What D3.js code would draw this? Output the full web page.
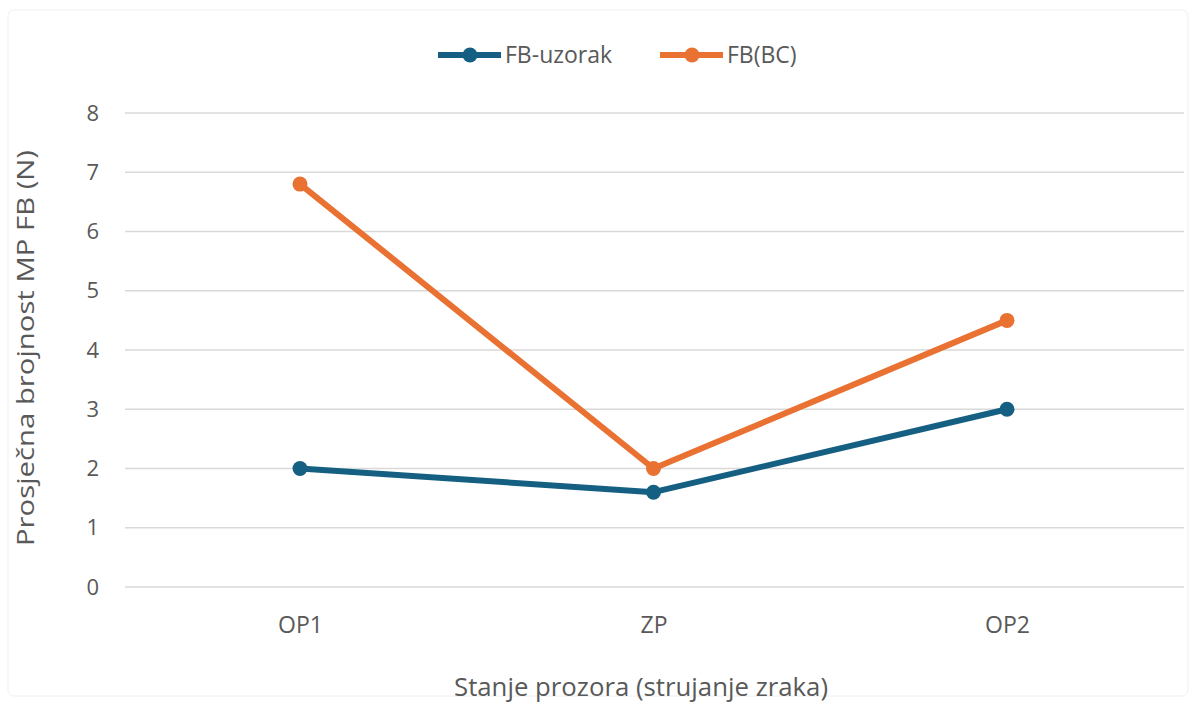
<!DOCTYPE html>
<html><head><meta charset="utf-8">
<script src="https://cdn.jsdelivr.net/npm/d3@7"></script>
<style>body{margin:0;background:#fff}svg{display:block}text{font-family:"Open Sans","Noto Sans",sans-serif}</style>
</head><body><svg id="c" width="1196" height="702"></svg>
<script>
const categories = ["OP1", "ZP", "OP2"];
const seriesNames = ["FB-uzorak", "FB(BC)"];
const uzorak = [2.0, 1.6, 3.0];
const bc = [6.8, 2.0, 4.5];
const yTicks = [0,1,2,3,4,5,6,7,8];
const colors = ["#156082", "#E97132"];

const svg = d3.select("#c");
const x = d3.scalePoint().domain(categories).range([300, 1007]);
const y = d3.scaleLinear().domain([0, 8]).range([587, 113]);

// frame
svg.append("rect").attr("x",8).attr("y",10).attr("width",1180).attr("height",686).attr("rx",6)
  .attr("fill","#fff").attr("stroke","#f0f0f0");

// gridlines
svg.append("g").selectAll("line").data(yTicks).join("line")
  .attr("x1",125).attr("x2",1184).attr("y1",d=>y(d)).attr("y2",d=>y(d))
  .attr("stroke","#d9d9d9").attr("stroke-width",1.5);

// y axis
const ya = svg.append("g").attr("transform","translate(125,0)")
  .call(d3.axisLeft(y).tickValues(yTicks).tickSize(0).tickPadding(26));
ya.select(".domain").remove();
ya.selectAll("text").attr("font-size",22).attr("fill","#595959").attr("font-family","Open Sans, sans-serif");

// x axis
const xa = svg.append("g").attr("transform","translate(0,587)")
  .call(d3.axisBottom(x).tickSize(0).tickPadding(30));
xa.select(".domain").remove();
xa.selectAll("text").attr("font-size",23).attr("fill","#595959").attr("font-family","Open Sans, sans-serif");

// titles
svg.append("text").attr("x",641).attr("y",696).attr("text-anchor","middle")
  .attr("font-size",25).attr("fill","#595959")
  .attr("textLength",374).attr("lengthAdjust","spacingAndGlyphs")
  .text("Stanje prozora (strujanje zraka)");
svg.append("text").attr("transform","translate(34,348) rotate(-90)").attr("text-anchor","middle")
  .attr("font-size",23).attr("fill","#595959")
  .attr("textLength",396).attr("lengthAdjust","spacingAndGlyphs")
  .text("Prosječna brojnost MP FB (N)");

const data = [uzorak, bc];
const line = d3.line().x((d,i)=>x(categories[i])).y(d=>y(d));
data.forEach((s,k)=>{
  svg.append("path").datum(s).attr("d",line).attr("fill","none")
    .attr("stroke",colors[k]).attr("stroke-width",6).attr("stroke-linejoin","round");
  svg.append("g").selectAll("circle").data(s).join("circle")
    .attr("cx",(d,i)=>x(categories[i])).attr("cy",d=>y(d)).attr("r",7.5).attr("fill",colors[k]);
});

// legend
const legX = [438, 660];
seriesNames.forEach((n,k)=>{
  const g = svg.append("g").attr("transform",`translate(${legX[k]},55)`);
  g.append("line").attr("x1",0).attr("x2",63).attr("stroke",colors[k]).attr("stroke-width",6);
  g.append("circle").attr("cx",32).attr("r",7.5).attr("fill",colors[k]);
  g.append("text").attr("x",67).attr("dy","0.35em").attr("font-size",23).attr("fill","#595959").text(n);
});
</script></body></html>
